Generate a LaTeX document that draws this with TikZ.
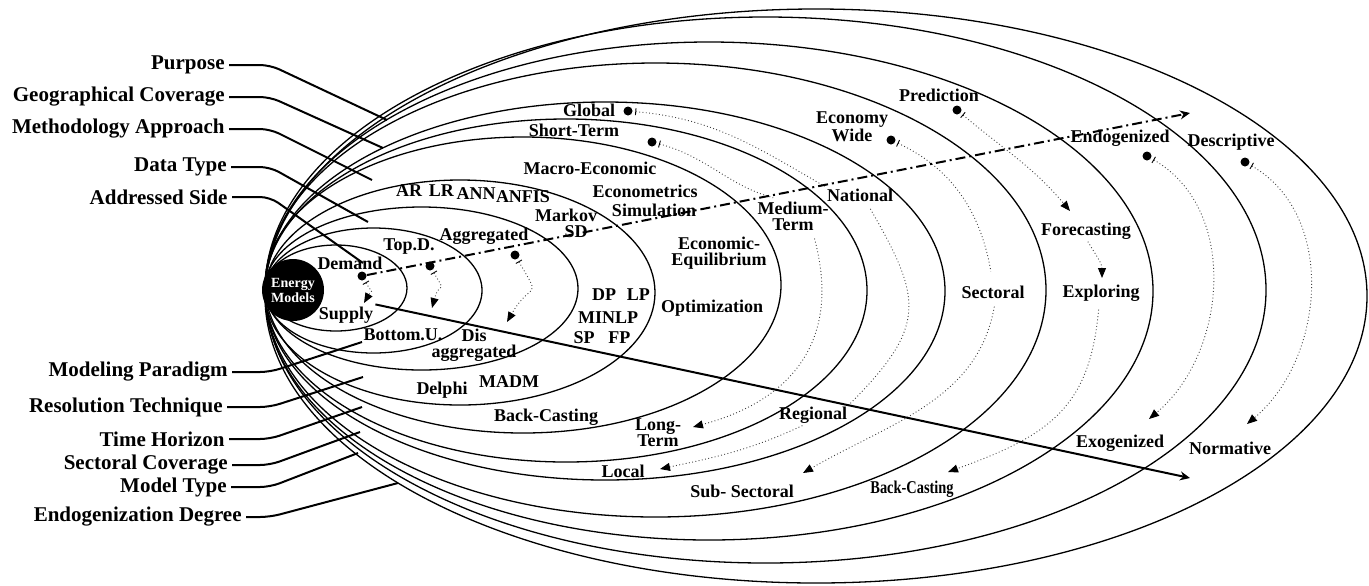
\documentclass[tikz,border=0pt]{standalone}
\usepackage{fontspec}
\setmainfont{Liberation Serif}
\usepackage{graphicx}
\usepackage{tikz}
\usetikzlibrary{arrows.meta, positioning}

\begin{document}
\begin{tikzpicture}[
    x=0.5pt, y=0.5pt,
    ring/.style={line width=0.65pt},
    side/.style={anchor=east, inner sep=2pt, font=\fontsize{10.5}{12}\selectfont\bfseries},
    item/.style={inner sep=1pt, align=center, font=\fontsize{9}{8}\selectfont\bfseries},
    leader/.style={line width=1pt, rounded corners=5pt},
    dot/.style={circle, fill=black, inner sep=0pt, minimum size=4.5pt},
    flow/.style={black!75, line width=0.45pt, dash pattern=on 0.45pt off 1.2pt},
    dotstart/.style={{Bar[width=3.5pt, black]}-, shorten <=1.2pt},
    dotarrow/.style={{Bar[width=3.5pt, black]}-{Triangle[length=5pt, width=4pt, black]}, shorten <=1.2pt},
    arrowend/.style={-{Triangle[length=5pt, width=4pt, black]}},
    axis/.style={line width=1pt, -{Stealth[length=5pt, width=4.5pt]}}
]
\useasboundingbox (0,0) rectangle (1369,-585);

\foreach \cx/\cy/\rx/\ry in {336/288/71/43, 373.5/290.5/108.5/62.5, 421.5/288.5/156.5/81.5,
    460/292.5/195/112.5, 523/285/258/148, 566/290.5/301/171.5, 605/291/340/189,
    655.5/290/390.5/227, 709/291/444/249, 765.5/290/500.5/273, 816/296/551/287}
  \draw[ring] (\cx,-\cy) ellipse [x radius=\rx, y radius=\ry];

\node[circle, fill=black, minimum size=31pt, inner sep=0pt, text=white, align=center,
      font=\fontsize{7}{7.5}\selectfont\bfseries] (core) at (293,-290) {Energy\\Models};

\node[side] (purpose) at (229,-65) {Purpose};
\node[side] (geo) at (229,-97) {Geographical Coverage};
\node[side] (method) at (229,-129) {Methodology Approach};
\node[side] (datatype) at (231,-167) {Data Type};
\node[side] (addressed) at (232,-197) {Addressed Side};
\node[side] (paradigm) at (232,-372) {Modeling Paradigm};
\node[side] (technique) at (227,-407) {Resolution Technique};
\node[side] (horizon) at (229,-439) {Time Horizon};
\node[side] (sectcov) at (232,-465) {Sectoral Coverage};
\node[side] (modeltype) at (231,-487) {Model Type};
\node[side] (endodeg) at (246,-517) {Endogenization Degree};

\coordinate (bx) at (270,0);
\foreach \n/\x/\y in {purpose/387/120, geo/383/148, method/372/180, datatype/368/222,
    addressed/363/263, paradigm/362/342, technique/363/377, horizon/362/407,
    sectcov/360/432, modeltype/358/453, endodeg/398/483} {
  \coordinate (\n end) at (\x,-\y);
  \draw[leader] (\n.east) -- (\n.east -| bx) -- (\n end);
}

\node[item] (demand) at (350,-263) {Demand};
\node[item] (supply) at (346,-315) {Supply};
\node[item] (topd) at (409,-247) {Top.D.};
\node[item] (bottomu) at (403,-335) {Bottom.U.};
\node[item] (agg) at (484,-236) {Aggregated};
\node[item] (disagg) at (474,-345) {Dis\\aggregated};
\node[item] (ar) at (409,-191) {AR};
\node[item, right=1pt of ar] (lr) {LR};
\node[item] (ann) at (476,-194) {ANN};
\node[item] (anfis) at (523,-197) {ANFIS};
\node[item] (markov) at (566,-215) {Markov};
\node[item] (sd) at (576,-232) {SD};
\node[item] (dp) at (604,-295) {DP};
\node[item, right=3pt of dp] (lp) {LP};
\node[item] (minlp) at (608,-318) {MINLP};
\node[item] (sp) at (584,-338) {SP};
\node[item, right=4.5pt of sp] (fp) {FP};
\node[item] (delphi) at (442,-390) {Delphi};
\node[item] (madm) at (509,-382) {MADM};
\node[item] (backin) at (546,-417) {Back-Casting};
\node[item] (macro) at (590,-168) {Macro-Economic};
\node[item] (econometrics) at (645,-191) {Econometrics};
\node[item] (simulation) at (654,-210) {Simulation};
\node[item] (equilibrium) at (719,-253) {Economic-\\Equilibrium};
\node[item] (optim) at (712,-308) {Optimization};
\node[item] (short) at (574,-130) {Short-Term};
\node[item] (global) at (589,-110) {Global};
\node[item] (medium) at (793,-216) {Medium-\\Term};
\node[item] (national) at (860,-195) {National};
\node[item] (economy) at (852,-127) {Economy\\Wide};
\node[item] (prediction) at (939,-95) {Prediction};
\node[item] (sectoral) at (993,-292) {Sectoral};
\node[item] (forecast) at (1086,-231) {Forecasting};
\node[item] (exploring) at (1101,-293) {Exploring};
\node[item] (endo) at (1120,-138) {Endogenized};
\node[item] (descriptive) at (1231,-142) {Descriptive};
\node[item] (exo) at (1120,-443) {Exogenized};
\node[item] (normative) at (1230,-448) {Normative};
\node[item] (regional) at (813,-415) {Regional};
\node[item] (long) at (658,-433) {Long-\\Term};
\node[item] (local) at (623,-471) {Local};
\node[item] (subsect) at (742,-491) {Sub- Sectoral};
\node[item] (backout) at (912,-489) {\scalebox{0.8}[1]{Back-Casting}};

\node[dot] (dDemand) at (362,-276) {};
\node[dot] (dTop) at (430,-266) {};
\node[dot] (dAgg) at (515,-255) {};
\node[dot] (dShort) at (652,-142) {};
\node[dot] (dGlobal) at (628,-111) {};
\node[dot] (dEconomy) at (891,-140) {};
\node[dot] (dPred) at (957,-110) {};
\node[dot] (dEndo) at (1147,-156) {};
\node[dot] (dDesc) at (1245,-162) {};

\coordinate (tSupply) at (364,-303);
\coordinate (tBottom) at (432,-308);
\coordinate (tDis) at (507,-322);
\coordinate (tLong) at (693,-427);
\coordinate (tLocal) at (660,-469);
\coordinate (tSub) at (803,-473);
\coordinate (tFore) at (1070,-211);
\coordinate (tExpl) at (1102,-278);
\coordinate (tBack) at (948,-472);
\coordinate (tExo) at (1149,-419);
\coordinate (tNorm) at (1247,-424);
\coordinate (axisEnd) at (1190,-113);
\coordinate (lineEnd) at (1190,-478);

\draw[flow, dotarrow] (dDemand) to[out=-60, in=60, looseness=2] (tSupply);
\draw[flow, dotarrow] (dTop) to[out=-60, in=75, looseness=2] (tBottom);
\draw[flow, dotarrow] (dAgg) to[out=-60, in=60, looseness=2] (tDis);
\draw[flow, dotstart, shorten >=3pt] (dShort) to[out=-15, in=165] (medium.130);
\draw[flow, arrowend, shorten <=3pt] (medium.-40) to[out=-75, in=15, looseness=1.2] (tLong);
\draw[flow, dotstart] (dGlobal) to[out=-5, in=150] (national.north west);
\draw[flow, shorten <=3pt] (national.-50) to[out=-60, in=45, looseness=1.4] (regional.north east);
\draw[flow, arrowend] (regional.-135) to[out=-155, in=12] (tLocal);
\draw[flow, dotstart, shorten >=6pt] (dEconomy) to[out=-25, in=100] (sectoral.north);
\draw[flow, arrowend, shorten <=3pt] (sectoral.-75) to[out=-100, in=30] (tSub);
\draw[flow, dotarrow] (dPred) to[out=-40, in=130] (tFore);
\draw[flow, arrowend] (forecast.-80) to[out=-60, in=90] (tExpl);
\draw[flow, arrowend, shorten <=3pt] (exploring.-100) to[out=-95, in=20, looseness=1.2] (tBack);
\draw[flow, dotarrow] (dEndo) to[out=-30, in=40] (tExo);
\draw[flow, dotarrow] (dDesc) to[out=-30, in=40] (tNorm);

\draw[axis, dash pattern=on 5pt off 2pt on 1pt off 2pt] (dDemand) -- (axisEnd);
\draw[axis] (supply.north east) -- (lineEnd);
\end{tikzpicture}
\end{document}
